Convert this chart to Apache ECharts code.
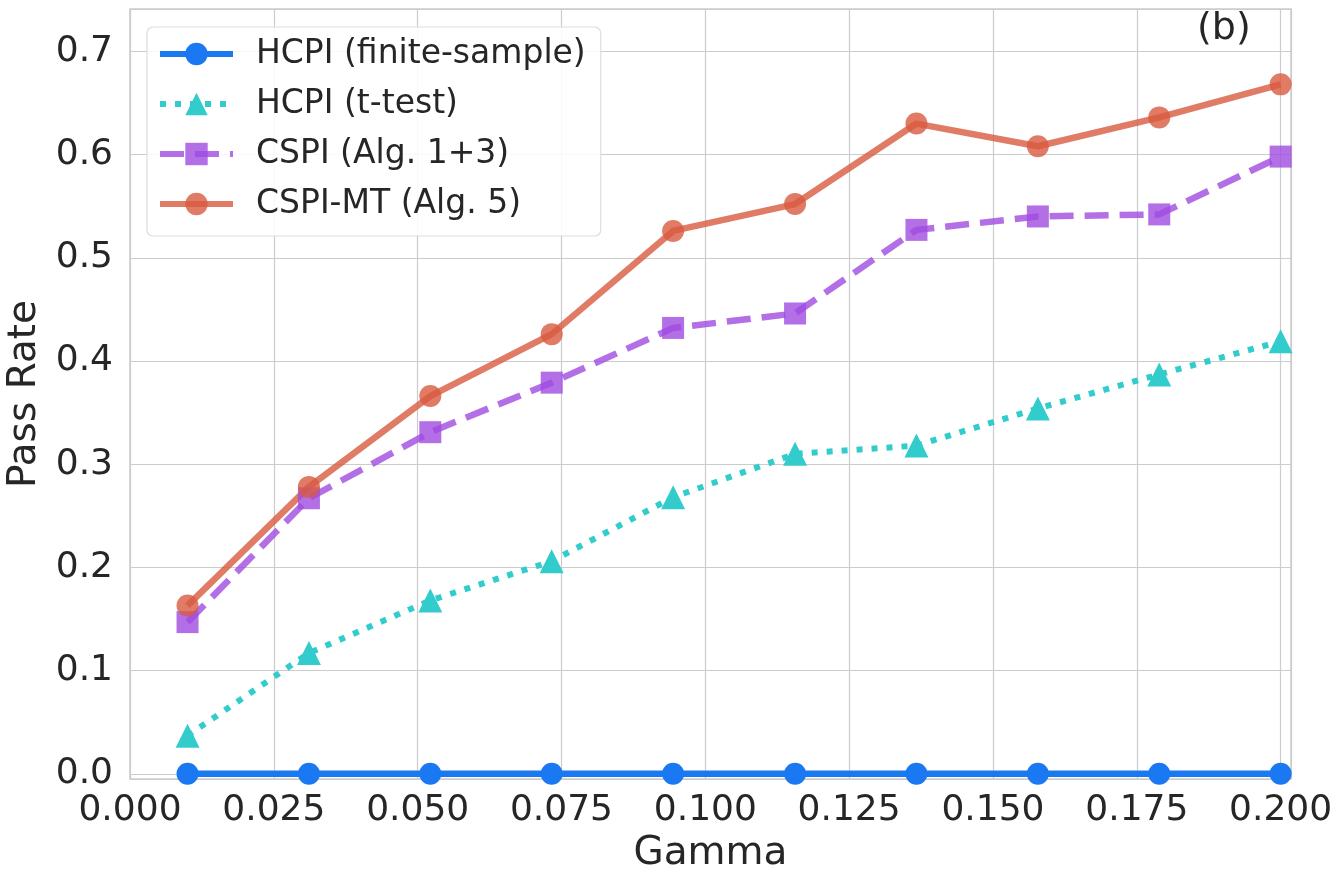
<!DOCTYPE html>
<html>
<head>
<meta charset="UTF-8">
<title>Pass Rate vs Gamma</title>
<script src="https://cdn.jsdelivr.net/npm/echarts@6/dist/echarts.min.js"></script>
<style>
  html, body { margin: 0; padding: 0; background: #fff; }
  #chart { width: 1341px; height: 886px; }
</style>
</head>
<body>
<div id="chart"></div>
<script>
// gamma values (x)
const gammas = [0.01, 0.0311, 0.0522, 0.0733, 0.0944, 0.1156, 0.1367, 0.1578, 0.1789, 0.2];

// pass rates
const hcpiFinite = [0, 0, 0, 0, 0, 0, 0, 0, 0, 0];
const hcpiTtest = [0.037, 0.117, 0.168, 0.206, 0.268, 0.310, 0.318, 0.354, 0.387, 0.419];
const cspi = [0.147, 0.267, 0.331, 0.379, 0.432, 0.446, 0.527, 0.540, 0.542, 0.598];
const cspiMt = [0.163, 0.278, 0.366, 0.426, 0.526, 0.552, 0.630, 0.608, 0.636, 0.668];

const seriesNames = ['HCPI (finite-sample)', 'HCPI (t-test)', 'CSPI (Alg. 1+3)', 'CSPI-MT (Alg. 5)'];

const FONT = 'DejaVu Sans';
const TXT = '#262626';

function pairs(ys) {
    return gammas.map((g, i) => [g, ys[i]]);
}

const chart = echarts.init(document.getElementById('chart'), null, { renderer: 'canvas' });

const option = {
    backgroundColor: '#ffffff',
    animation: false,
    textStyle: { fontFamily: FONT },
    title: {
        text: '(b)',
        left: 1192,
        top: 5,
        textStyle: { fontFamily: FONT, fontSize: 38, fontWeight: 'normal', color: TXT }
    },
    grid: {
        left: 130,
        right: 50,
        top: 9,
        bottom: 107,
        show: true,
        borderColor: '#cccccc',
        borderWidth: 1.5,
        containLabel: false,
        outerBoundsMode: 'none'
    },
    legend: {
        left: 147,
        top: 27,
        orient: 'vertical',
        padding: [7, 15, 12, 10],
        itemGap: 10,
        itemWidth: 73,
        itemHeight: 28,
        backgroundColor: 'rgba(255,255,255,0.85)',
        borderColor: '#dddddd',
        borderWidth: 1.2,
        borderRadius: 6,
        lineStyle: { width: 6 },
        textStyle: { fontFamily: FONT, fontSize: 33, color: TXT, lineHeight: 40, padding: [0, 0, 0, 18] },
        data: seriesNames
    },
    xAxis: {
        type: 'value',
        min: 0,
        max: 0.2018,
        interval: 0.025,
        name: 'Gamma',
        nameLocation: 'middle',
        nameGap: 52,
        nameTextStyle: { fontFamily: FONT, fontSize: 39, color: TXT },
        axisLine: { show: false },
        axisTick: { show: false },
        splitLine: { show: true, lineStyle: { color: '#cccccc', width: 1.2 } },
        axisLabel: {
            fontFamily: FONT, fontSize: 36, color: TXT, margin: 14,
            formatter: function (v) {
                const k = Math.round(v / 0.025);
                if (Math.abs(v - k * 0.025) > 1e-6) return '';
                return v.toFixed(3);
            }
        }
    },
    yAxis: {
        type: 'value',
        min: -0.005,
        max: 0.741,
        splitNumber: 8,
        name: 'Pass Rate',
        nameLocation: 'middle',
        nameGap: 86,
        nameTextStyle: { fontFamily: FONT, fontSize: 39, color: TXT },
        axisLine: { show: false },
        axisTick: { show: false },
        splitLine: { show: true, lineStyle: { color: '#cccccc', width: 1.2 } },
        axisLabel: {
            fontFamily: FONT, fontSize: 36, color: TXT, margin: 17,
            formatter: function (v) {
                const k = Math.round(v / 0.1);
                if (Math.abs(v - k * 0.1) > 1e-6) return '';
                return v.toFixed(1);
            }
        }
    },
    series: [
        {
            name: seriesNames[0],
            type: 'line',
            data: pairs(hcpiFinite),
            symbol: 'circle',
            symbolSize: 22,
            showAllSymbol: true,
            lineStyle: { color: '#1a78f2', width: 6.5 },
            itemStyle: { color: '#1a78f2' }
        },
        {
            name: seriesNames[1],
            type: 'line',
            data: pairs(hcpiTtest),
            symbol: 'triangle',
            symbolSize: 24,
            lineStyle: { color: '#33cccc', width: 6, type: [6, 9], cap: 'butt' },
            itemStyle: { color: '#33cccc' }
        },
        {
            name: seriesNames[2],
            type: 'line',
            data: pairs(cspi),
            symbol: 'rect',
            symbolSize: 22,
            lineStyle: { color: '#a04be0', width: 6.5, type: [24, 11], opacity: 0.8 },
            itemStyle: { color: '#a04be0', opacity: 0.8 }
        },
        {
            name: seriesNames[3],
            type: 'line',
            data: pairs(cspiMt),
            symbol: 'circle',
            symbolSize: 22,
            lineStyle: { color: '#d85a40', width: 6.5, opacity: 0.8 },
            itemStyle: { color: '#d85a40', opacity: 0.8 }
        }
    ]
};

chart.setOption(option);
window.addEventListener('resize', function () { chart.resize(); });
</script>
</body>
</html>
